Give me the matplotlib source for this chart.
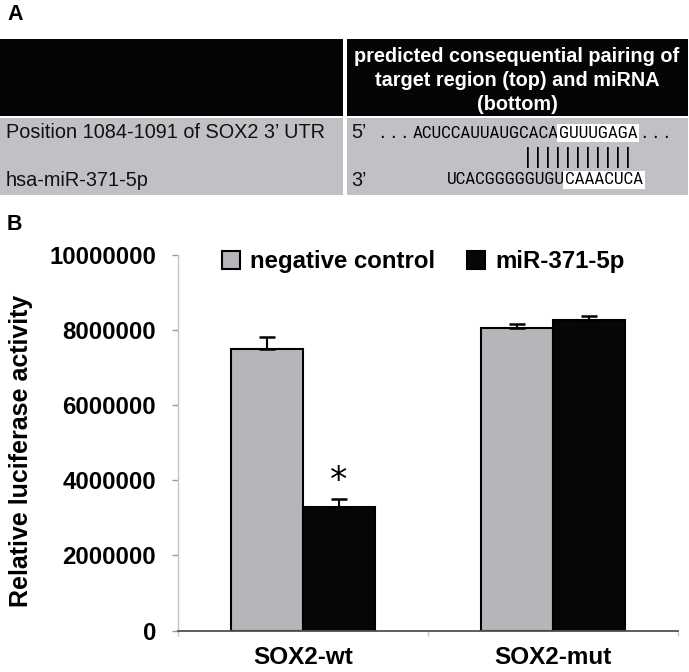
import matplotlib
matplotlib.use("Agg")
import matplotlib.pyplot as plt
from matplotlib.patches import Rectangle
from matplotlib import font_manager as fm
import numpy as np

# ---------------- Panel A data ----------------
header_lines = ["predicted consequential pairing of", "target region (top) and miRNA", "(bottom)"]
row_labels = ["Position 1084-1091 of SOX2 3\u2019 UTR", "hsa-miR-371-5p"]
strand_labels = ["5\u2019", "3\u2019"]
target_flank = "ACUCCAUUAUGCACA"
target_seed = "GUUUGAGA"
mirna_flank = "UCACGGGGGUGU"
mirna_seed = "CAAACUCA"
n_pairs = 11

# ---------------- Panel B data ----------------
categories = ["SOX2-wt", "SOX2-mut"]
series_names = ["negative control", "miR-371-5p"]
neg_values = [7500000, 8060000]
neg_errors = [320000, 100000]
mir_values = [3290000, 8270000]
mir_errors = [210000, 110000]
significance = ["*", ""]
yticks = [0, 2000000, 4000000, 6000000, 8000000, 10000000]
ytick_labels = ["0", "2000000", "4000000", "6000000", "8000000", "10000000"]

SANS = ["Liberation Sans", "DejaVu Sans"]
BAR_GRAY = "#b5b6ba"
TABLE_GRAY = "#c0c1c4"


def condensed_font():
    prefs = ["Liberation Sans Narrow", "Roboto Condensed", "Open Sans Condensed",
             "Noto Sans Condensed", "DejaVu Sans Condensed", "DejaVu Sans"]
    found = []
    for f in fm.fontManager.ttflist:
        nm = f.name
        st = str(f.stretch).lower()
        cond = ("narrow" in nm.lower() or "condensed" in nm.lower()
                or st in ("condensed", "semi-condensed", "extra-condensed")
                or (st.isdigit() and int(st) < 500))
        if not cond or f.style != "normal":
            continue
        w = f.weight
        try:
            w = int(w)
        except Exception:
            w = 400 if str(w).lower() in ("normal", "regular", "book") else 700
        if w != 400:
            continue
        rank = len(prefs)
        for i, p in enumerate(prefs):
            if nm.startswith(p):
                rank = i
                break
        found.append((rank, f.fname))
    if found:
        found.sort()
        return fm.FontProperties(fname=found[0][1])
    return fm.FontProperties(family="Liberation Sans")


fig = plt.figure(figsize=(6.89, 6.72), dpi=100)
renderer = fig.canvas.get_renderer()

# ---------------- Panel A (pixel-coordinate overlay) ----------------
axA = fig.add_axes([0, 0, 1, 1])
axA.set_xlim(0, 689)
axA.set_ylim(672, 0)
axA.axis("off")

for (x0, y0, w, h, c) in [(0, 39, 343, 77, "#060404"), (347, 39, 341, 77, "#060404"),
                          (0, 118, 343, 77, TABLE_GRAY), (347, 118, 341, 77, TABLE_GRAY)]:
    axA.add_patch(Rectangle((x0, y0), w, h, facecolor=c, edgecolor="none"))

axA.text(7, 15, "A", family=SANS, weight="bold", fontsize=15.5, ha="left", va="center")
axA.text(7, 225, "B", family=SANS, weight="bold", fontsize=15.5, ha="left", va="center")

for i, line in enumerate(header_lines):
    axA.text(517, 57 + 24 * i, line, family=SANS, weight="bold", fontsize=14.3,
             color="white", ha="center", va="center")

row_y = [133, 180]
for y, lab, st in zip(row_y, row_labels, strand_labels):
    axA.text(6, y, lab, family=SANS, fontsize=14.3, ha="left", va="center", color="#111111")
    axA.text(351, y, st, family=SANS, fontsize=14.3, ha="left", va="center", color="#111111")

# sequence font: fit the flank width seen in the reference (~147 px)
seq_fp = condensed_font()
probe = axA.text(0, 0, target_flank, fontproperties=seq_fp, fontsize=14)
pw = probe.get_window_extent(renderer).width
probe.remove()
seq_fs = min(15.0, 14 * 147.0 / pw)

axA.text(380, row_y[0], ". . .", family=SANS, fontsize=14.3, ha="left", va="center")
axA.text(559, row_y[0], target_flank, fontproperties=seq_fp, fontsize=seq_fs, ha="right", va="center")
axA.text(559, row_y[0], target_seed, fontproperties=seq_fp, fontsize=seq_fs, ha="left", va="center",
         bbox=dict(boxstyle="square,pad=0.1", facecolor="white", edgecolor="none"))
axA.text(642, row_y[0], ". . .", family=SANS, fontsize=14.3, ha="left", va="center")

axA.text(565, row_y[1], mirna_flank, fontproperties=seq_fp, fontsize=seq_fs, ha="right", va="center")
axA.text(565, row_y[1], mirna_seed, fontproperties=seq_fp, fontsize=seq_fs, ha="left", va="center",
         bbox=dict(boxstyle="square,pad=0.1", facecolor="white", edgecolor="none"))

for i in range(n_pairs):
    axA.text(528 + 10 * i, 158, "|", family=SANS, fontsize=16, ha="center", va="center")

# ---------------- Panel B ----------------
ax = fig.add_axes([178 / 689, 1 - 630.5 / 672, 500 / 689, 375.5 / 672])
x = np.arange(len(categories))
w = 0.288
ekw = dict(ecolor="black", elinewidth=1.5, capsize=5.5, capthick=1.8)
b1 = ax.bar(x - w / 2, neg_values, w, yerr=[np.zeros(len(x)), neg_errors],
            color=BAR_GRAY, edgecolor="black", linewidth=1.5, error_kw=ekw, label=series_names[0])
b2 = ax.bar(x + w / 2, mir_values, w, yerr=[np.zeros(len(x)), mir_errors],
            color="#070505", edgecolor="black", linewidth=1.5, error_kw=ekw, label=series_names[1])

for i, s in enumerate(significance):
    if s:
        ax.annotate(s, xy=(x[i] + w / 2, mir_values[i] + mir_errors[i]), xytext=(0, 1),
                    textcoords="offset points", ha="center", va="bottom",
                    fontsize=25, family=["DejaVu Sans"])

ax.set_xlim(-0.5, 1.5)
ax.set_ylim(0, 10000000)
ax.spines["top"].set_visible(False)
ax.spines["right"].set_visible(False)
ax.spines["left"].set_color("#c4c4c4")
ax.spines["left"].set_linewidth(1.0)
ax.spines["bottom"].set_color("#505050")
ax.spines["bottom"].set_linewidth(1.3)

ax.set_yticks(yticks)
ax.set_yticklabels(ytick_labels, family=SANS, weight="bold", fontsize=17.3)
ax.tick_params(axis="y", direction="out", length=4.3, width=1, color="#9a9a9a", pad=11.5)

ax.set_xticks(x)
ax.set_xticklabels(categories, family=SANS, weight="bold", fontsize=17.5)
ax.tick_params(axis="x", which="major", length=0, pad=11)
ax.set_xticks([-0.5, 0.5, 1.5], minor=True)
ax.tick_params(axis="x", which="minor", direction="out", length=3.6, width=1, color="#c4c4c4")

ax.set_ylabel("Relative luciferase activity", family=SANS, weight="bold", fontsize=18)
ax.yaxis.set_label_coords(-0.29, 0.478)

fig.legend([b1, b2], series_names, loc="center left",
           bbox_to_anchor=(222 / 689, 1 - 262 / 672), ncol=2, frameon=False,
           borderpad=0, borderaxespad=0, handlelength=0.75, handleheight=0.75,
           handletextpad=0.42, columnspacing=1.33,
           prop=dict(family=SANS, weight="bold", size=17.3))

fig.savefig("out.png", dpi=100)
